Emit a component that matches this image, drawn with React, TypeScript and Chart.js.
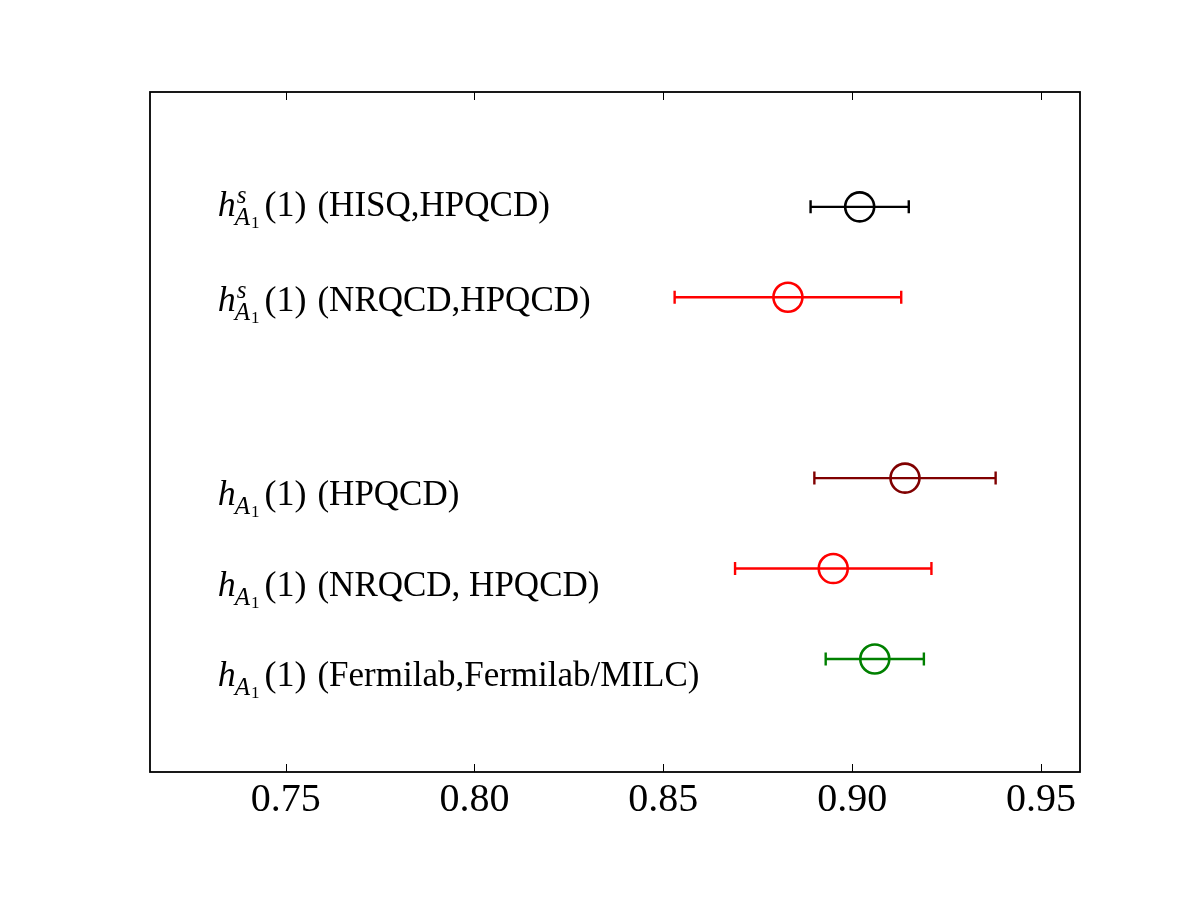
import React, { useEffect, useRef } from "react";
import { Chart, registerables } from "chart.js";

Chart.register(...registerables);

// Form factor results at zero recoil, with symmetric uncertainties
const centralValues = [0.902, 0.883, 0.914, 0.895, 0.906];
const errors = [0.013, 0.03, 0.024, 0.026, 0.013];
const rowPositions = [6, 5, 3, 2, 1];
const pointColors = ["#000000", "#ff0000", "#800000", "#ff0000", "#008000"];

// Row labels: symbol parts + collaboration text
const labelSuper = ["s", "s", "", "", ""];
const labelTexts = [
  "(HISQ,HPQCD)",
  "(NRQCD,HPQCD)",
  "(HPQCD)",
  "(NRQCD, HPQCD)",
  "(Fermilab,Fermilab/MILC)",
];
// Baseline of each row label in axis units
const labelAnchorX = 0.732;
const labelAnchorY = [5.9, 4.85, 2.7, 1.7, 0.7];

const xTicks = [0.75, 0.8, 0.85, 0.9, 0.95];
const X_MIN = 0.71408;
const X_MAX = 0.96034;
const Y_MIN = -0.25;
const Y_MAX = 7.27;

const SERIF = '"Liberation Serif", "DejaVu Serif", serif';

const errorBarsPlugin = {
  id: "errorBars",
  beforeDatasetsDraw(chart: any) {
    const { ctx, scales } = chart;
    const xs = scales.x;
    const ys = scales.y;
    ctx.save();
    centralValues.forEach((v, i) => {
      const y = ys.getPixelForValue(rowPositions[i]);
      const x1 = xs.getPixelForValue(v - errors[i]);
      const x2 = xs.getPixelForValue(v + errors[i]);
      ctx.strokeStyle = pointColors[i];
      ctx.lineWidth = 2.4;
      ctx.beginPath();
      ctx.moveTo(x1, y);
      ctx.lineTo(x2, y);
      ctx.moveTo(x1, y - 6.5);
      ctx.lineTo(x1, y + 6.5);
      ctx.moveTo(x2, y - 6.5);
      ctx.lineTo(x2, y + 6.5);
      ctx.stroke();
    });
    ctx.restore();
  },
};

const frameAndLabelsPlugin = {
  id: "frameAndLabels",
  afterDraw(chart: any) {
    const { ctx, chartArea, scales } = chart;
    const xs = scales.x;
    const ys = scales.y;
    ctx.save();
    // inward tick marks on top and bottom edges
    ctx.strokeStyle = "#000";
    ctx.lineWidth = 1;
    xs.ticks.forEach((t: any) => {
      const px = Math.round(xs.getPixelForValue(t.value)) + 0.5;
      ctx.beginPath();
      ctx.moveTo(px, chartArea.bottom);
      ctx.lineTo(px, chartArea.bottom - 8);
      ctx.moveTo(px, chartArea.top);
      ctx.lineTo(px, chartArea.top + 8);
      ctx.stroke();
    });
    // frame
    ctx.lineWidth = 1.8;
    ctx.strokeRect(
      chartArea.left,
      chartArea.top,
      chartArea.right - chartArea.left,
      chartArea.bottom - chartArea.top
    );

    // row labels: h^{s}_{A_1}(1) (...)
    ctx.fillStyle = "#000";
    ctx.textBaseline = "alphabetic";
    ctx.textAlign = "left";
    labelTexts.forEach((txt, i) => {
      const x0 = xs.getPixelForValue(labelAnchorX);
      const b = ys.getPixelForValue(labelAnchorY[i]);
      ctx.font = `italic 36px ${SERIF}`;
      ctx.fillText("h", x0, b);
      const wh = ctx.measureText("h").width;
      let end = x0 + wh;
      if (labelSuper[i]) {
        ctx.font = `italic 25px ${SERIF}`;
        ctx.fillText(labelSuper[i], x0 + wh + 1, b - 13);
        end = Math.max(end, x0 + wh + 1 + ctx.measureText(labelSuper[i]).width);
      }
      ctx.font = `italic 25px ${SERIF}`;
      const ax = x0 + wh - 1;
      ctx.fillText("A", ax, b + 9);
      const wa = ctx.measureText("A").width;
      ctx.font = `17px ${SERIF}`;
      ctx.fillText("1", ax + wa + 1, b + 12);
      end = Math.max(end, ax + wa + 1 + ctx.measureText("1").width);
      ctx.font = `36px ${SERIF}`;
      const argX = end + 5;
      ctx.fillText("(1)", argX, b);
      ctx.font = `35px ${SERIF}`;
      ctx.fillText(txt, argX + 53, b);
    });
    ctx.restore();
  },
};

export default function App() {
  const canvasRef = useRef<HTMLCanvasElement | null>(null);

  useEffect(() => {
    if (!canvasRef.current) return;
    const chart = new Chart(canvasRef.current, {
      type: "scatter",
      data: {
        datasets: [
          {
            data: centralValues.map((v, i) => ({ x: v, y: rowPositions[i] })),
            pointStyle: "circle",
            pointRadius: 14.5,
            pointHoverRadius: 14.5,
            pointBorderWidth: 2.6,
            pointBackgroundColor: "rgba(0,0,0,0)",
            pointBorderColor: pointColors,
            showLine: false,
          },
        ],
      },
      options: {
        responsive: false,
        animation: false,
        events: [],
        layout: { padding: { left: 150, right: 120, top: 92, bottom: 0 } },
        plugins: {
          legend: { display: false },
          tooltip: { enabled: false },
        },
        scales: {
          x: {
            type: "linear",
            min: X_MIN,
            max: X_MAX,
            border: { display: false },
            grid: { display: false, drawTicks: false },
            afterFit(scale: any) {
              scale.height = 128;
            },
            afterBuildTicks(scale: any) {
              scale.ticks = xTicks.map((v) => ({ value: v }));
            },
            ticks: {
              padding: 4,
              color: "#000",
              font: { family: SERIF, size: 40 },
              callback: (v: any) => Number(v).toFixed(2),
            },
          },
          y: {
            type: "linear",
            display: false,
            min: Y_MIN,
            max: Y_MAX,
          },
        },
      },
      plugins: [errorBarsPlugin, frameAndLabelsPlugin],
    });
    return () => chart.destroy();
  }, []);

  return (
    <div style={{ position: "fixed", left: 0, top: 0, width: 1200, height: 900, background: "#fff" }}>
      <canvas ref={canvasRef} width={1200} height={900} />
    </div>
  );
}
